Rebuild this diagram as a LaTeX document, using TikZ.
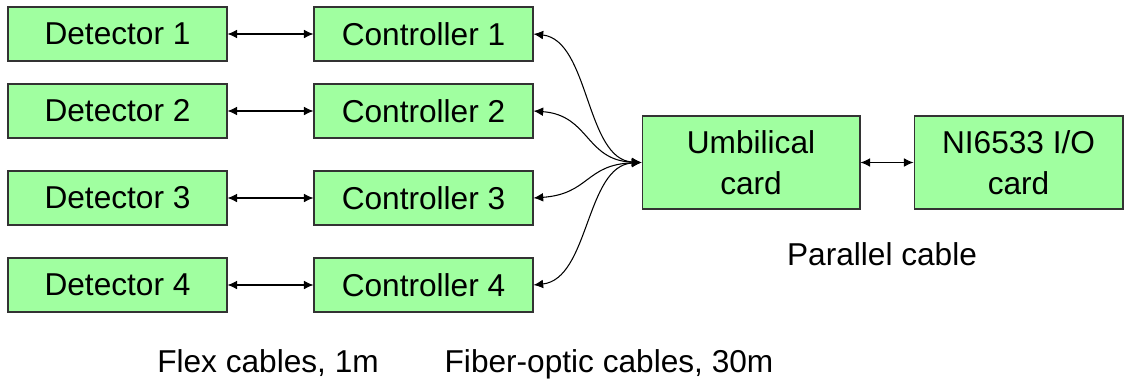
\documentclass[tikz,border=0pt]{standalone}
\usepackage{fontspec}
\setmainfont{Liberation Sans}
\usetikzlibrary{arrows.meta}
\definecolor{cardgreen}{RGB}{160,255,160}
\tikzset{
  card/.style={draw=black!80,fill=cardgreen,line width=0.6pt,inner sep=2pt,
    minimum width=4.38cm,minimum height=1.08cm,align=center},
  link/.style={{Latex[length=5.5pt,width=5pt]}-{Latex[length=5.5pt,width=5pt]},line width=0.6pt},
}

\begin{document}
\begin{tikzpicture}[x=0.02cm,y=-0.02cm,font=\fontsize{18pt}{23.3pt}\selectfont]
\useasboundingbox (0,0) rectangle (1125,379);
\foreach \i/\y in {1/34,2/111,3/198,4/285} {
  \node[card] (det\i) at (117.5,\y) {Detector \i};
  \node[card] (ctl\i) at (423.5,\y) {Controller \i};
  \draw[link] (det\i) -- (ctl\i);
}
\node[card,minimum width=4.36cm,minimum height=1.86cm] (umb) at (751,162.5) {Umbilical\\card};
\node[card,minimum width=4.18cm,minimum height=1.86cm] (ni) at (1018.5,162.5) {NI6533 I/O\\card};
\draw[link] (umb) -- (ni);
\foreach \i/\a/\b in {1/6/-3,2/4/-2,3/-4/2,4/-6/3}
  \draw[link] (ctl\i.east) .. controls +(56,\a) and +(-56,\b) .. (umb.west);
\node[anchor=base] (par) at (882,265) {Parallel cable};
\node[anchor=base] (flex) at (268,372) {Flex cables, 1m};
\node[anchor=base] (fiber) at (609,372) {Fiber-optic cables, 30m};
\end{tikzpicture}
\end{document}
